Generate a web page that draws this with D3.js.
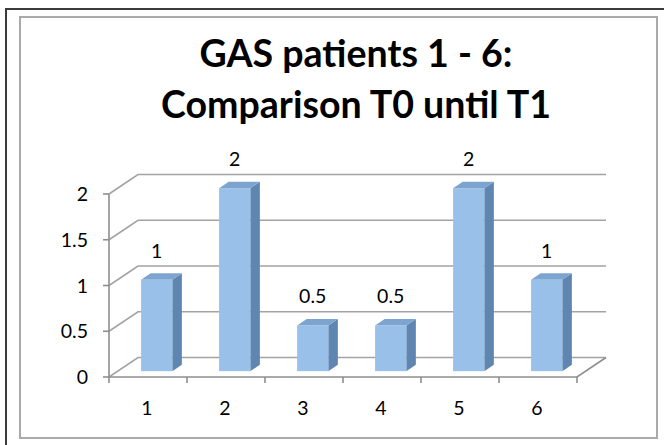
<!DOCTYPE html>
<html>
<head>
<meta charset="utf-8">
<script src="https://cdn.jsdelivr.net/npm/d3@7"></script>
<style>
  body { margin: 0; background: #fff; }
  svg { display: block; }
  text { font-family: Lato, "Open Sans", sans-serif; fill: #000; }
</style>
</head>
<body>
<div id="chart"></div>
<script>
var svgWidth = 664;
var svgHeight = 445;

// data
var categories = ["1", "2", "3", "4", "5", "6"];
var values = [1, 2, 0.5, 0.5, 2, 1];
var yTicks = [0, 0.5, 1, 1.5, 2];
var titleLines = ["GAS patients 1 - 6:", "Comparison T0 until T1"];

// floor front edge and depth offset of the 3D box
var floor = { left: 109, right: 577, bottom: 377, top: 194 };
var depth = { dx: 29, dy: -19.5 };
var barDepth = [0.3, 0.63];
var labelSize = 19.5;

var svg = d3.select("#chart")
  .append("svg")
  .attr("width", svgWidth)
  .attr("height", svgHeight);

// frames
svg.append("rect")
  .attr("x", 6).attr("y", 9)
  .attr("width", 720).attr("height", 500)
  .attr("fill", "none")
  .attr("stroke", "#3c3c3c")
  .attr("stroke-width", 2);

svg.append("rect")
  .attr("x", 20).attr("y", 17)
  .attr("width", 637).attr("height", 421)
  .attr("fill", "#fff")
  .attr("stroke", "#aaaaaa")
  .attr("stroke-width", 2);

var xScale = d3.scaleBand()
  .domain(categories)
  .range([floor.left, floor.right])
  .paddingInner(0.6)
  .paddingOuter(0.3);

var yScale = d3.scaleLinear()
  .domain([0, 2])
  .range([floor.bottom, floor.top]);

// project a front-plane point back by depth fraction d
function proj(x, v, d) {
  return [x + d * depth.dx, yScale(v) + d * depth.dy];
}

var grid = svg.append("g")
  .attr("stroke", "#a3a3a3")
  .attr("stroke-width", 1.6)
  .attr("fill", "none");

yTicks.forEach(function(v) {
  var a = proj(floor.left, v, 0);
  var b = proj(floor.left, v, 1);
  var c = proj(floor.right, v, 1);
  grid.append("path").attr("d", d3.line()([a, b, c]));
});

// floor front and right edge, y axis
var axes = svg.append("g")
  .attr("stroke", "#8e8e8e")
  .attr("stroke-width", 1.6)
  .attr("fill", "none");

axes.append("path").attr("d", d3.line()([
  proj(floor.left, 0, 0), proj(floor.right, 0, 0), proj(floor.right, 0, 1)
]));
axes.append("path").attr("d", d3.line()([
  proj(floor.left, 2, 0), proj(floor.left, 0, 0)
]));

yTicks.forEach(function(v) {
  axes.append("line")
    .attr("x1", floor.left - 6).attr("x2", floor.left)
    .attr("y1", yScale(v)).attr("y2", yScale(v));
});

var step = xScale.step();
d3.range(categories.length + 1).forEach(function(i) {
  var x = floor.left + i * step;
  axes.append("line")
    .attr("x1", x).attr("x2", x)
    .attr("y1", floor.bottom).attr("y2", floor.bottom + 6);
});

// y tick labels
svg.append("g").selectAll("text")
  .data(yTicks)
  .enter()
  .append("text")
  .attr("x", 88)
  .attr("y", d => yScale(d) + 7)
  .attr("text-anchor", "end")
  .attr("font-size", labelSize)
  .text(d => d);

// x tick labels
svg.append("g").selectAll("text")
  .data(categories)
  .enter()
  .append("text")
  .attr("x", d => xScale(d) + xScale.bandwidth() / 2 - 1)
  .attr("y", 415)
  .attr("text-anchor", "middle")
  .attr("font-size", labelSize)
  .text(d => d);

// 3D bars
var bars = svg.append("g");
categories.forEach(function(c, i) {
  var v = values[i];
  var x0 = xScale(c);
  var x1 = x0 + xScale.bandwidth();
  var d0 = barDepth[0], d1 = barDepth[1];
  var g = bars.append("g");

  g.append("path")
    .attr("fill", "#5f86b0")
    .attr("d", d3.line()([proj(x1, 0, d0), proj(x1, 0, d1), proj(x1, v, d1), proj(x1, v, d0)]) + "Z");
  g.append("path")
    .attr("fill", "#7ca4cf")
    .attr("d", d3.line()([proj(x0, v, d0), proj(x0, v, d1), proj(x1, v, d1), proj(x1, v, d0)]) + "Z");
  var p = proj(x0, v, d0);
  g.append("rect")
    .attr("x", p[0])
    .attr("y", p[1])
    .attr("width", xScale.bandwidth())
    .attr("height", proj(x0, 0, d0)[1] - p[1])
    .attr("fill", "#98c0e8");

  g.append("text")
    .attr("x", p[0] + xScale.bandwidth() / 2)
    .attr("y", p[1] - 22)
    .attr("text-anchor", "middle")
    .attr("font-size", labelSize)
    .text(v);
});

// title, sized so the second line spans the measured width
var title = svg.append("g");
var lines = title.selectAll("text")
  .data(titleLines)
  .enter()
  .append("text")
  .attr("x", 356)
  .attr("y", (d, i) => 67 + i * 51)
  .attr("text-anchor", "middle")
  .attr("font-weight", "bold")
  .attr("font-size", 40)
  .text(d => d);

var w = lines.nodes()[1].getComputedTextLength();
lines.attr("font-size", 40 * 390 / w);
</script>
</body>
</html>
